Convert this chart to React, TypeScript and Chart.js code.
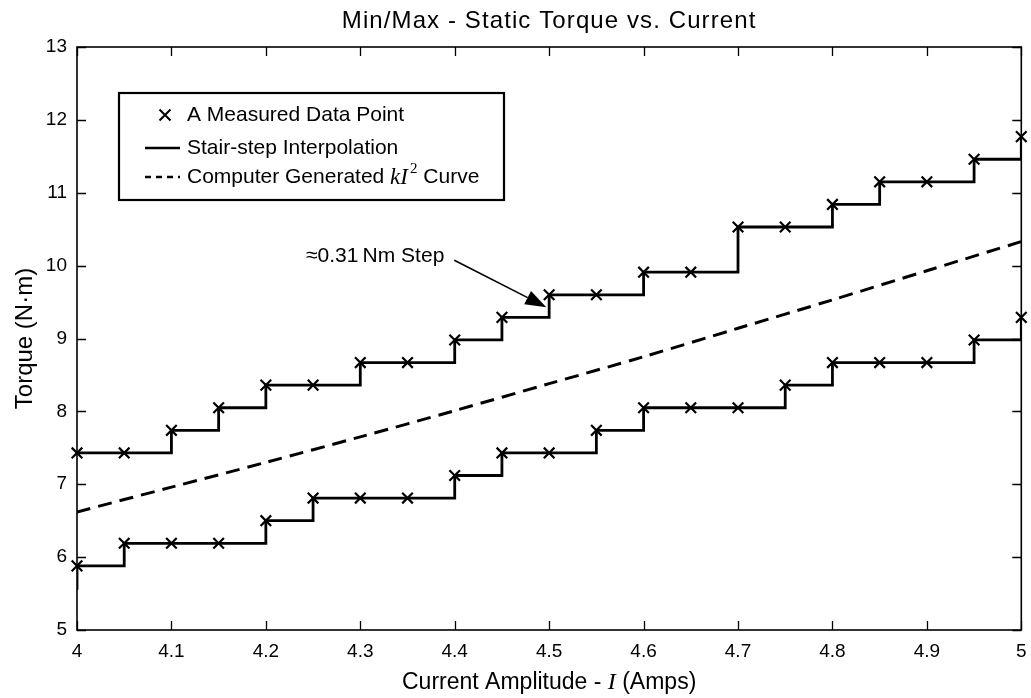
import { useEffect, useRef } from 'react';
import { Chart, registerables } from 'chart.js';

Chart.register(...registerables);

// ---- data ----
const current = [4.0, 4.05, 4.1, 4.15, 4.2, 4.25, 4.3, 4.35, 4.4, 4.45, 4.5, 4.55, 4.6, 4.65, 4.7, 4.75, 4.8, 4.85, 4.9, 4.95, 5.0];
const maxTorque = [7.43, 7.43, 7.74, 8.05, 8.36, 8.36, 8.67, 8.67, 8.98, 9.29, 9.6, 9.6, 9.91, 9.91, 10.53, 10.53, 10.84, 11.15, 11.15, 11.46, 11.77];
const minTorque = [5.88, 6.19, 6.19, 6.19, 6.5, 6.81, 6.81, 6.81, 7.12, 7.43, 7.43, 7.74, 8.05, 8.05, 8.05, 8.36, 8.67, 8.67, 8.67, 8.98, 9.29];
// step entering the plot from the left on the lower curve
const minLeadIn = { x: 3.95, y: 5.57 };
const curveCurrent = [4.0, 4.1, 4.2, 4.3, 4.4, 4.5, 4.6, 4.7, 4.8, 4.9, 5.0];
const curveTorque = [6.62, 6.96, 7.3, 7.65, 8.01, 8.38, 8.75, 9.14, 9.53, 9.93, 10.33];
const xTicks = [4.0, 4.1, 4.2, 4.3, 4.4, 4.5, 4.6, 4.7, 4.8, 4.9, 5.0];
const yTicks = [5, 6, 7, 8, 9, 10, 11, 12, 13];
const annotationTip = { x: 4.497, y: 9.43 };
const annotationText = '\u22480.31\u2009Nm Step';

const SANS = "'Liberation Sans', Arial, sans-serif";
const SERIF = "'Liberation Serif', 'Times New Roman', serif";

const decor = {
  id: 'decor',
  beforeDatasetsDraw(chart: any) {
    const { ctx, chartArea: a, scales } = chart;
    ctx.save();
    ctx.strokeStyle = '#000';
    ctx.lineWidth = 1.6;
    ctx.strokeRect(a.left, a.top, a.right - a.left, a.bottom - a.top);
    const tl = 9;
    ctx.lineWidth = 1.3;
    ctx.beginPath();
    for (const v of xTicks) {
      const px = Math.round(scales.x.getPixelForValue(v)) + 0.5;
      ctx.moveTo(px, a.bottom); ctx.lineTo(px, a.bottom - tl);
      ctx.moveTo(px, a.top); ctx.lineTo(px, a.top + tl);
    }
    for (const v of yTicks) {
      const py = Math.round(scales.y.getPixelForValue(v)) + 0.5;
      ctx.moveTo(a.left, py); ctx.lineTo(a.left + tl, py);
      ctx.moveTo(a.right, py); ctx.lineTo(a.right - tl, py);
    }
    ctx.stroke();
    ctx.restore();
  },
  afterDraw(chart: any) {
    const { ctx, chartArea: a, scales } = chart;
    const cx = (a.left + a.right) / 2;
    ctx.save();
    ctx.fillStyle = '#000';
    ctx.strokeStyle = '#000';
    ctx.textBaseline = 'alphabetic';

    // title
    ctx.font = `24px ${SANS}`;
    ctx.textAlign = 'center';
    (ctx as any).letterSpacing = '1.1px';
    ctx.fillText('Min/Max - Static Torque vs. Current', cx, 28);
    (ctx as any).letterSpacing = '0px';

    // y title
    ctx.save();
    ctx.translate(32, (a.top + a.bottom) / 2);
    ctx.rotate(-Math.PI / 2);
    ctx.font = `24px ${SANS}`;
    ctx.textAlign = 'center';
    ctx.fillText('Torque (N\u00B7m)', 0, 0);
    ctx.restore();

    // x title with italic I
    ctx.textAlign = 'left';
    const p1 = 'Current Amplitude - ';
    const p2 = 'I';
    const p3 = ' (Amps)';
    ctx.font = `23px ${SANS}`;
    const w1 = ctx.measureText(p1).width;
    const w3 = ctx.measureText(p3).width;
    ctx.font = `italic 24px ${SERIF}`;
    const w2 = ctx.measureText(p2).width;
    const x0 = cx - (w1 + w2 + w3) / 2;
    const xtY = 689;
    ctx.font = `23px ${SANS}`;
    ctx.fillText(p1, x0, xtY);
    ctx.font = `italic 24px ${SERIF}`;
    ctx.fillText(p2, x0 + w1, xtY);
    ctx.font = `23px ${SANS}`;
    ctx.fillText(p3, x0 + w1 + w2, xtY);

    // legend box
    const lx = a.left + 42, ly = a.top + 46, lw = 385, lh = 107;
    ctx.fillStyle = '#fff';
    ctx.fillRect(lx, ly, lw, lh);
    ctx.lineWidth = 2.2;
    ctx.strokeRect(lx, ly, lw, lh);
    ctx.fillStyle = '#000';
    const textX = lx + 68;
    const rows = [ly + 22, ly + 55, ly + 84];
    ctx.font = `21px ${SANS}`;
    // row 1: marker
    const mx = lx + 46, r = 5.5;
    ctx.lineWidth = 2;
    ctx.beginPath();
    ctx.moveTo(mx - r, rows[0] - r); ctx.lineTo(mx + r, rows[0] + r);
    ctx.moveTo(mx - r, rows[0] + r); ctx.lineTo(mx + r, rows[0] - r);
    ctx.stroke();
    ctx.textBaseline = 'middle';
    ctx.fillText('A Measured Data Point', textX, rows[0]);
    // row 2: solid line
    ctx.lineWidth = 2.5;
    ctx.beginPath();
    ctx.moveTo(lx + 26, rows[1]); ctx.lineTo(lx + 61, rows[1]);
    ctx.stroke();
    ctx.fillText('Stair-step Interpolation', textX, rows[1]);
    // row 3: dashed line
    ctx.setLineDash([6, 5]);
    ctx.beginPath();
    ctx.moveTo(lx + 26, rows[2]); ctx.lineTo(lx + 61, rows[2]);
    ctx.stroke();
    ctx.setLineDash([]);
    let tx = textX;
    const s1 = 'Computer Generated ';
    ctx.fillText(s1, tx, rows[2]);
    tx += ctx.measureText(s1).width;
    ctx.font = `italic 23px ${SERIF}`;
    ctx.fillText('kI', tx, rows[2] + 1);
    tx += ctx.measureText('kI').width + 2;
    ctx.font = `15px ${SERIF}`;
    ctx.fillText('2', tx, rows[2] - 8);
    tx += ctx.measureText('2').width;
    ctx.font = `21px ${SANS}`;
    ctx.fillText(' Curve', tx, rows[2]);

    // annotation with arrow
    const tipX = scales.x.getPixelForValue(annotationTip.x);
    const tipY = scales.y.getPixelForValue(annotationTip.y);
    const tailX = tipX - 92, tailY = tipY - 47;
    ctx.textAlign = 'right';
    ctx.textBaseline = 'middle';
    ctx.font = `21px ${SANS}`;
    ctx.fillText(annotationText, tailX - 10, tailY - 4);
    const ang = Math.atan2(tipY - tailY, tipX - tailX);
    const hl = 21, hw = 7.5;
    const bx = tipX - hl * Math.cos(ang), by = tipY - hl * Math.sin(ang);
    ctx.lineWidth = 1.6;
    ctx.beginPath();
    ctx.moveTo(tailX, tailY); ctx.lineTo(bx, by);
    ctx.stroke();
    ctx.beginPath();
    ctx.moveTo(tipX, tipY);
    ctx.lineTo(bx + hw * Math.sin(ang), by - hw * Math.cos(ang));
    ctx.lineTo(bx - hw * Math.sin(ang), by + hw * Math.cos(ang));
    ctx.closePath();
    ctx.fill();
    ctx.restore();
  },
};

export default function App() {
  const ref = useRef<HTMLCanvasElement>(null);
  useEffect(() => {
    if (!ref.current) return;
    const pts = (ys: number[]) => current.map((x, i) => ({ x, y: ys[i] }));
    const markerDs = (ys: number[]) => ({
      data: pts(ys),
      showLine: false,
      pointStyle: 'crossRot' as const,
      pointRadius: 7.5,
      pointBorderWidth: 2.2,
      pointBorderColor: '#000',
      borderColor: '#000',
      clip: false as const,
    });
    const stairDs = (data: { x: number; y: number }[]) => ({
      data,
      stepped: 'before' as const,
      borderColor: '#000',
      borderWidth: 2.8,
      pointRadius: 0,
      clip: 0,
    });
    const chart = new Chart(ref.current, {
      type: 'line',
      data: {
        datasets: [
          markerDs(maxTorque),
          markerDs(minTorque),
          stairDs(pts(maxTorque)),
          stairDs([minLeadIn, ...pts(minTorque)]),
          {
            data: curveCurrent.map((x, i) => ({ x, y: curveTorque[i] })),
            borderColor: '#000',
            borderWidth: 3,
            borderDash: [14, 8],
            pointRadius: 0,
            tension: 0.3,
            clip: 0,
          } as any,
        ],
      },
      options: {
        animation: false,
        responsive: true,
        maintainAspectRatio: false,
        layout: { padding: { top: 47, right: 8, left: 0, bottom: 0 } },
        plugins: { legend: { display: false }, tooltip: { enabled: false }, title: { display: false } },
        scales: {
          x: {
            type: 'linear',
            min: 4,
            max: 5,
            grid: { display: false, drawTicks: false },
            border: { display: false },
            afterBuildTicks: (s: any) => { s.ticks = xTicks.map((v) => ({ value: v })); },
            afterFit: (s: any) => { s.height = 68; s.paddingLeft = 0; s.paddingRight = 0; },
            ticks: {
              color: '#000',
              padding: 10,
              maxRotation: 0,
              autoSkip: false,
              font: { family: SANS, size: 19 },
              callback: (v: any) => String(Math.round(Number(v) * 10) / 10),
            },
          },
          y: {
            type: 'linear',
            min: 5,
            max: 13,
            grid: { display: false, drawTicks: false },
            border: { display: false },
            afterBuildTicks: (s: any) => { s.ticks = yTicks.map((v) => ({ value: v })); },
            afterFit: (s: any) => { s.width = 77; s.paddingTop = 0; s.paddingBottom = 0; },
            ticks: {
              color: '#000',
              padding: 10,
              autoSkip: false,
              font: { family: SANS, size: 19 },
              callback: (v: any) => String(v),
            },
          },
        },
      },
      plugins: [decor],
    });
    return () => chart.destroy();
  }, []);
  return (
    <div style={{ position: 'fixed', left: 0, top: 0, width: 1031, height: 698, background: '#fff' }}>
      <canvas ref={ref} />
    </div>
  );
}
